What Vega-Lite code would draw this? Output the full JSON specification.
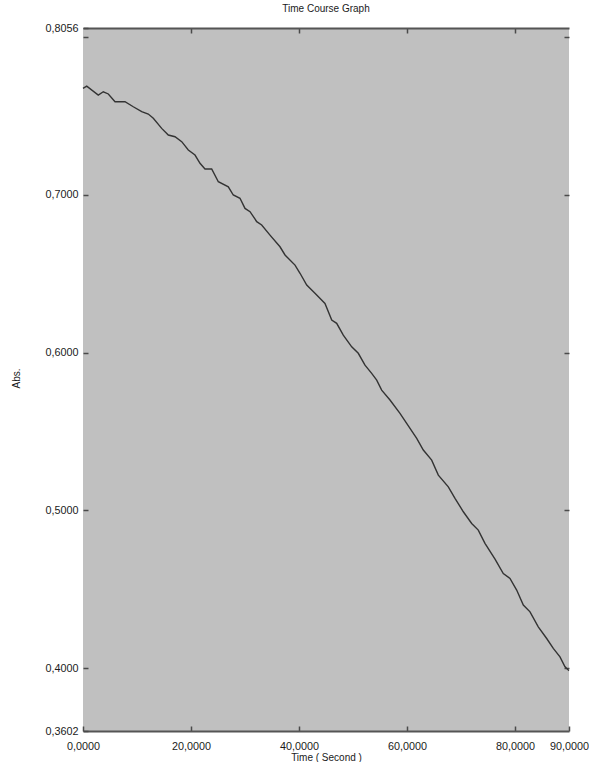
{
  "$schema": "https://vega.github.io/schema/vega-lite/v6.json",
  "width": 486,
  "height": 703,
  "autosize": {"type": "none"},
  "padding": {"left": 83, "top": 28, "right": 20, "bottom": 31},
  "background": "white",
  "view": {"fill": "#c0c0c0", "stroke": null},
  "config": {
    "font": "Liberation Sans",
    "axis": {"labelFont": "Liberation Sans", "titleFont": "Liberation Sans", "labelColor": "#1a1a1a", "titleColor": "#1a1a1a", "labelFontSize": 10.8, "titleFontSize": 10, "titleFontWeight": "normal", "grid": false, "tickColor": "#4a4a4a", "tickWidth": 1.5, "domainColor": "#555555", "domainWidth": 2}
  },
  "title": {"text": "Time Course Graph", "fontSize": 10, "fontWeight": "normal", "font": "Liberation Sans", "color": "#1a1a1a", "offset": 8, "anchor": "middle"},
  "data": {"values": [
    {"t": 0, "abs": 0.7674}, {"t": 0.69, "abs": 0.7688}, {"t": 2.83, "abs": 0.7631}, {"t": 3.76, "abs": 0.7652},
    {"t": 4.69, "abs": 0.7638}, {"t": 5.93, "abs": 0.7589}, {"t": 7.78, "abs": 0.7589}, {"t": 9.31, "abs": 0.7557},
    {"t": 10.87, "abs": 0.7526}, {"t": 12.09, "abs": 0.7511}, {"t": 13.02, "abs": 0.7484}, {"t": 14.57, "abs": 0.742},
    {"t": 15.8, "abs": 0.7378}, {"t": 17.04, "abs": 0.7367}, {"t": 18.28, "abs": 0.7336}, {"t": 19.5, "abs": 0.7283},
    {"t": 20.74, "abs": 0.7251}, {"t": 21.67, "abs": 0.7199}, {"t": 22.59, "abs": 0.7163}, {"t": 23.83, "abs": 0.7163},
    {"t": 25.06, "abs": 0.7082}, {"t": 26.91, "abs": 0.705}, {"t": 27.83, "abs": 0.6998}, {"t": 29.07, "abs": 0.6977},
    {"t": 30.0, "abs": 0.6913}, {"t": 30.93, "abs": 0.6892}, {"t": 32.17, "abs": 0.6829}, {"t": 33.09, "abs": 0.6808},
    {"t": 34.63, "abs": 0.6744}, {"t": 36.48, "abs": 0.667}, {"t": 37.41, "abs": 0.6618}, {"t": 39.26, "abs": 0.6554},
    {"t": 40.19, "abs": 0.6502}, {"t": 41.43, "abs": 0.6427}, {"t": 42.96, "abs": 0.6375}, {"t": 44.81, "abs": 0.6311},
    {"t": 46.06, "abs": 0.6206}, {"t": 46.98, "abs": 0.6185}, {"t": 48.2, "abs": 0.611}, {"t": 49.76, "abs": 0.6036},
    {"t": 50.98, "abs": 0.5995}, {"t": 52.22, "abs": 0.592}, {"t": 53.46, "abs": 0.5868}, {"t": 54.39, "abs": 0.5825},
    {"t": 55.31, "abs": 0.5762}, {"t": 56.85, "abs": 0.5699}, {"t": 58.7, "abs": 0.5614}, {"t": 61.8, "abs": 0.5456},
    {"t": 63.02, "abs": 0.5382}, {"t": 64.57, "abs": 0.5318}, {"t": 65.8, "abs": 0.5223}, {"t": 67.65, "abs": 0.5149},
    {"t": 68.89, "abs": 0.5076}, {"t": 70.43, "abs": 0.4991}, {"t": 71.98, "abs": 0.4917}, {"t": 73.2, "abs": 0.4875},
    {"t": 74.44, "abs": 0.4791}, {"t": 76.3, "abs": 0.4691}, {"t": 77.83, "abs": 0.46}, {"t": 79.07, "abs": 0.4569},
    {"t": 80.31, "abs": 0.4495}, {"t": 81.54, "abs": 0.44}, {"t": 82.78, "abs": 0.4357}, {"t": 84.31, "abs": 0.4262},
    {"t": 85.87, "abs": 0.4188}, {"t": 87.09, "abs": 0.4125}, {"t": 88.33, "abs": 0.4072}, {"t": 89.26, "abs": 0.4009},
    {"t": 89.87, "abs": 0.3988}, {"t": 90, "abs": 0.3985}
  ]},
  "resolve": {"scale": {"x": "independent", "y": "independent"}, "axis": {"x": "independent", "y": "independent"}},
  "layer": [
    {
      "mark": {"type": "line", "color": "#333333", "strokeWidth": 1.4},
      "encoding": {
        "x": {"field": "t", "type": "quantitative", "scale": {"domain": [0, 90], "nice": false, "zero": false},
          "axis": {"orient": "bottom", "values": [0, 20, 40, 60, 80, 90], "tickSize": -5, "labelPadding": 14, "labelFlush": false,
            "labelExpr": "replace(format(datum.value, '.4f'), '.', ',')", "title": "Time ( Second )",
            "titleX": 243, "titleY": 26, "titleBaseline": "middle", "titleAlign": "center"}},
        "y": {"field": "abs", "type": "quantitative", "scale": {"domain": [0.3602, 0.8056], "nice": false, "zero": false},
          "axis": {"orient": "left", "values": [0.3602, 0.4, 0.5, 0.6, 0.7, 0.8, 0.8056], "tickSize": -5, "labelPadding": 10, "domain": false,
            "labelFlush": false, "labelBaseline": "middle",
            "labelExpr": "datum.value == 0.8 ? '' : replace(format(datum.value, '.4f'), '.', ',')", "title": "Abs.",
            "titleAngle": -90, "titleX": -67, "titleY": 350, "titleAlign": "center", "titleBaseline": "middle"}}
      }
    },
    {
      "mark": {"type": "line", "strokeOpacity": 0},
      "encoding": {
        "x": {"field": "t", "type": "quantitative", "scale": {"domain": [0, 90], "nice": false, "zero": false},
          "axis": {"orient": "top", "values": [20, 40, 60, 80], "tickSize": -5, "labels": false, "title": null}},
        "y": {"field": "abs", "type": "quantitative", "scale": {"domain": [0.3602, 0.8056], "nice": false, "zero": false},
          "axis": {"orient": "right", "values": [0.4, 0.5, 0.6, 0.7, 0.8], "tickSize": -5, "labels": false, "domain": false, "title": null}}
      }
    }
  ]
}
